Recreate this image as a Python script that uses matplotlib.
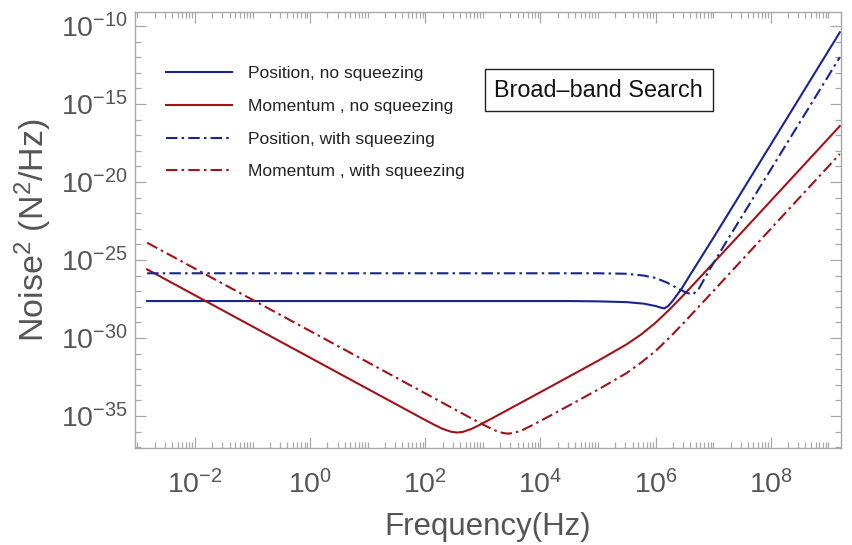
import numpy as np
import matplotlib
matplotlib.use("Agg")
import matplotlib.pyplot as plt
from matplotlib.ticker import LogLocator, FixedLocator, NullFormatter

plt.rcParams['font.family'] = ['Liberation Sans', 'DejaVu Sans']
plt.rcParams['mathtext.fontset'] = 'custom'
plt.rcParams['mathtext.rm'] = 'Liberation Sans'
plt.rcParams['mathtext.it'] = 'Liberation Sans:italic'
plt.rcParams['mathtext.bf'] = 'Liberation Sans:bold'

# log10(frequency / Hz) and log10(noise^2 / (N^2/Hz)) for each trace
pos_noSq_logf = [-2.83, 4.5, 5.0, 5.5, 5.8, 6.0, 6.1, 6.15, 6.22, 6.3, 6.45, 6.6, 7.0, 8.0, 9.2]
pos_noSq_logS = [-27.63, -27.63, -27.65, -27.7, -27.8, -27.95, -28.06, -28.1, -27.95, -27.6, -26.85, -25.95, -23.6, -17.6, -10.4]

mom_noSq_logf = [-2.83, -2, -1, 0, 1, 1.5, 2, 2.15, 2.3, 2.45, 2.55, 2.65, 2.8, 2.95, 3.2, 3.5, 4,
                 5, 5.5, 5.75, 6, 6.25, 6.5, 7, 7.5, 8, 9.2]
mom_noSq_logS = [-25.6, -27.26, -29.26, -31.26, -33.26, -34.26, -35.26, -35.55, -35.82, -36.01, -36.06,
                 -36.02, -35.83, -35.56, -35.07, -34.47, -33.47, -31.46, -30.40, -29.77, -29.02, -28.14,
                 -27.19, -25.20, -23.21, -21.21, -16.41]

pos_sq_logf = [-2.83, 5.0, 5.5, 5.8, 6.0, 6.2, 6.4, 6.55, 6.65, 6.75, 6.94, 7.2, 8.0, 9.2]
pos_sq_logS = [-25.85, -25.85, -25.88, -26.0, -26.15, -26.45, -26.85, -27.12, -27.2, -26.85, -25.6,
               -24.0, -19.2, -12.0]

mom_sq_logf = [-2.83, -2, -1, 0, 1, 2, 2.5, 2.8, 3.0, 3.2, 3.35, 3.44, 3.55, 3.7, 3.9, 4.2, 4.5,
               5, 5.5, 5.75, 6, 6.25, 6.5, 7, 8, 9.2]
mom_sq_logS = [-23.89, -25.55, -27.55, -29.55, -31.55, -33.55, -34.55, -35.15, -35.54, -35.91, -36.09,
               -36.13, -36.08, -35.88, -35.51, -34.92, -34.32, -33.31, -32.24, -31.57, -30.83, -29.94,
               -28.98, -27.0, -23.0, -18.2]

labels = ["Position, no squeezing", "Momentum , no squeezing",
          "Position, with squeezing", "Momentum , with squeezing"]

blue = '#18248f'
red = '#a31218'
dashdot = (0, (5.5, 2.0, 1.2, 2.0))

fig = plt.figure(figsize=(8.52, 5.45), dpi=100)
ax = fig.add_axes([0.1585, 0.178, 0.8286, 0.800])

def to_lin(v):
    return 10.0 ** np.asarray(v)

ax.plot(to_lin(pos_noSq_logf), to_lin(pos_noSq_logS), color=blue, lw=1.5, label=labels[0])
ax.plot(to_lin(mom_noSq_logf), to_lin(mom_noSq_logS), color=red, lw=1.5, label=labels[1])
ax.plot(to_lin(pos_sq_logf), to_lin(pos_sq_logS), color=blue, lw=1.5, ls=dashdot, label=labels[2])
ax.plot(to_lin(mom_sq_logf), to_lin(mom_sq_logS), color=red, lw=1.5, ls=dashdot, label=labels[3])

ax.set_xscale('log')
ax.set_yscale('log')
ax.set_xlim(10 ** -3.04, 10 ** 9.22)
ax.set_ylim(10 ** -37.05, 10 ** -9.1)

frame_c = '#a8a8a8'
text_c = '#555555'
for s in ax.spines.values():
    s.set_color(frame_c)
    s.set_linewidth(1.0)

ax.xaxis.set_major_locator(FixedLocator([10.0 ** k for k in range(-2, 9, 2)]))
ax.xaxis.set_minor_locator(LogLocator(base=10, subs=np.arange(1, 10), numticks=40))
ax.xaxis.set_minor_formatter(NullFormatter())
ax.yaxis.set_major_locator(FixedLocator([10.0 ** k for k in range(-35, -9, 5)]))
ax.yaxis.set_minor_locator(FixedLocator([10.0 ** k for k in range(-37, -9)]))
ax.yaxis.set_minor_formatter(NullFormatter())

ax.tick_params(which='both', direction='in', top=True, right=True, color=frame_c,
               labelcolor=text_c, labelsize=20.5, width=0.9)
ax.tick_params(which='major', length=8)
ax.tick_params(which='minor', length=4)
ax.tick_params(axis='x', which='major', pad=16)
ax.tick_params(axis='y', which='major', pad=5)

ax.set_xlabel('Frequency(Hz)', fontsize=22.5, color=text_c, labelpad=9)
ax.set_ylabel('Noise$^2$ (N$^2$/Hz)', fontsize=24.5, color=text_c, labelpad=5)

leg = ax.legend(loc='upper left', bbox_to_anchor=(0.044, 0.876), frameon=False,
                fontsize=12.5, handlelength=3.8, handletextpad=0.92, labelspacing=1.01,
                borderpad=0, borderaxespad=0)
for t in leg.get_texts():
    t.set_color('#222222')

ax.text(0.657, 0.821, 'Broad\u2013band Search', transform=ax.transAxes, ha='center', va='center',
        fontsize=16.8, color='#111111',
        bbox=dict(boxstyle='square,pad=0.4', facecolor='white', edgecolor='#222222', linewidth=1.0))

fig.savefig('out.png', dpi=100)
